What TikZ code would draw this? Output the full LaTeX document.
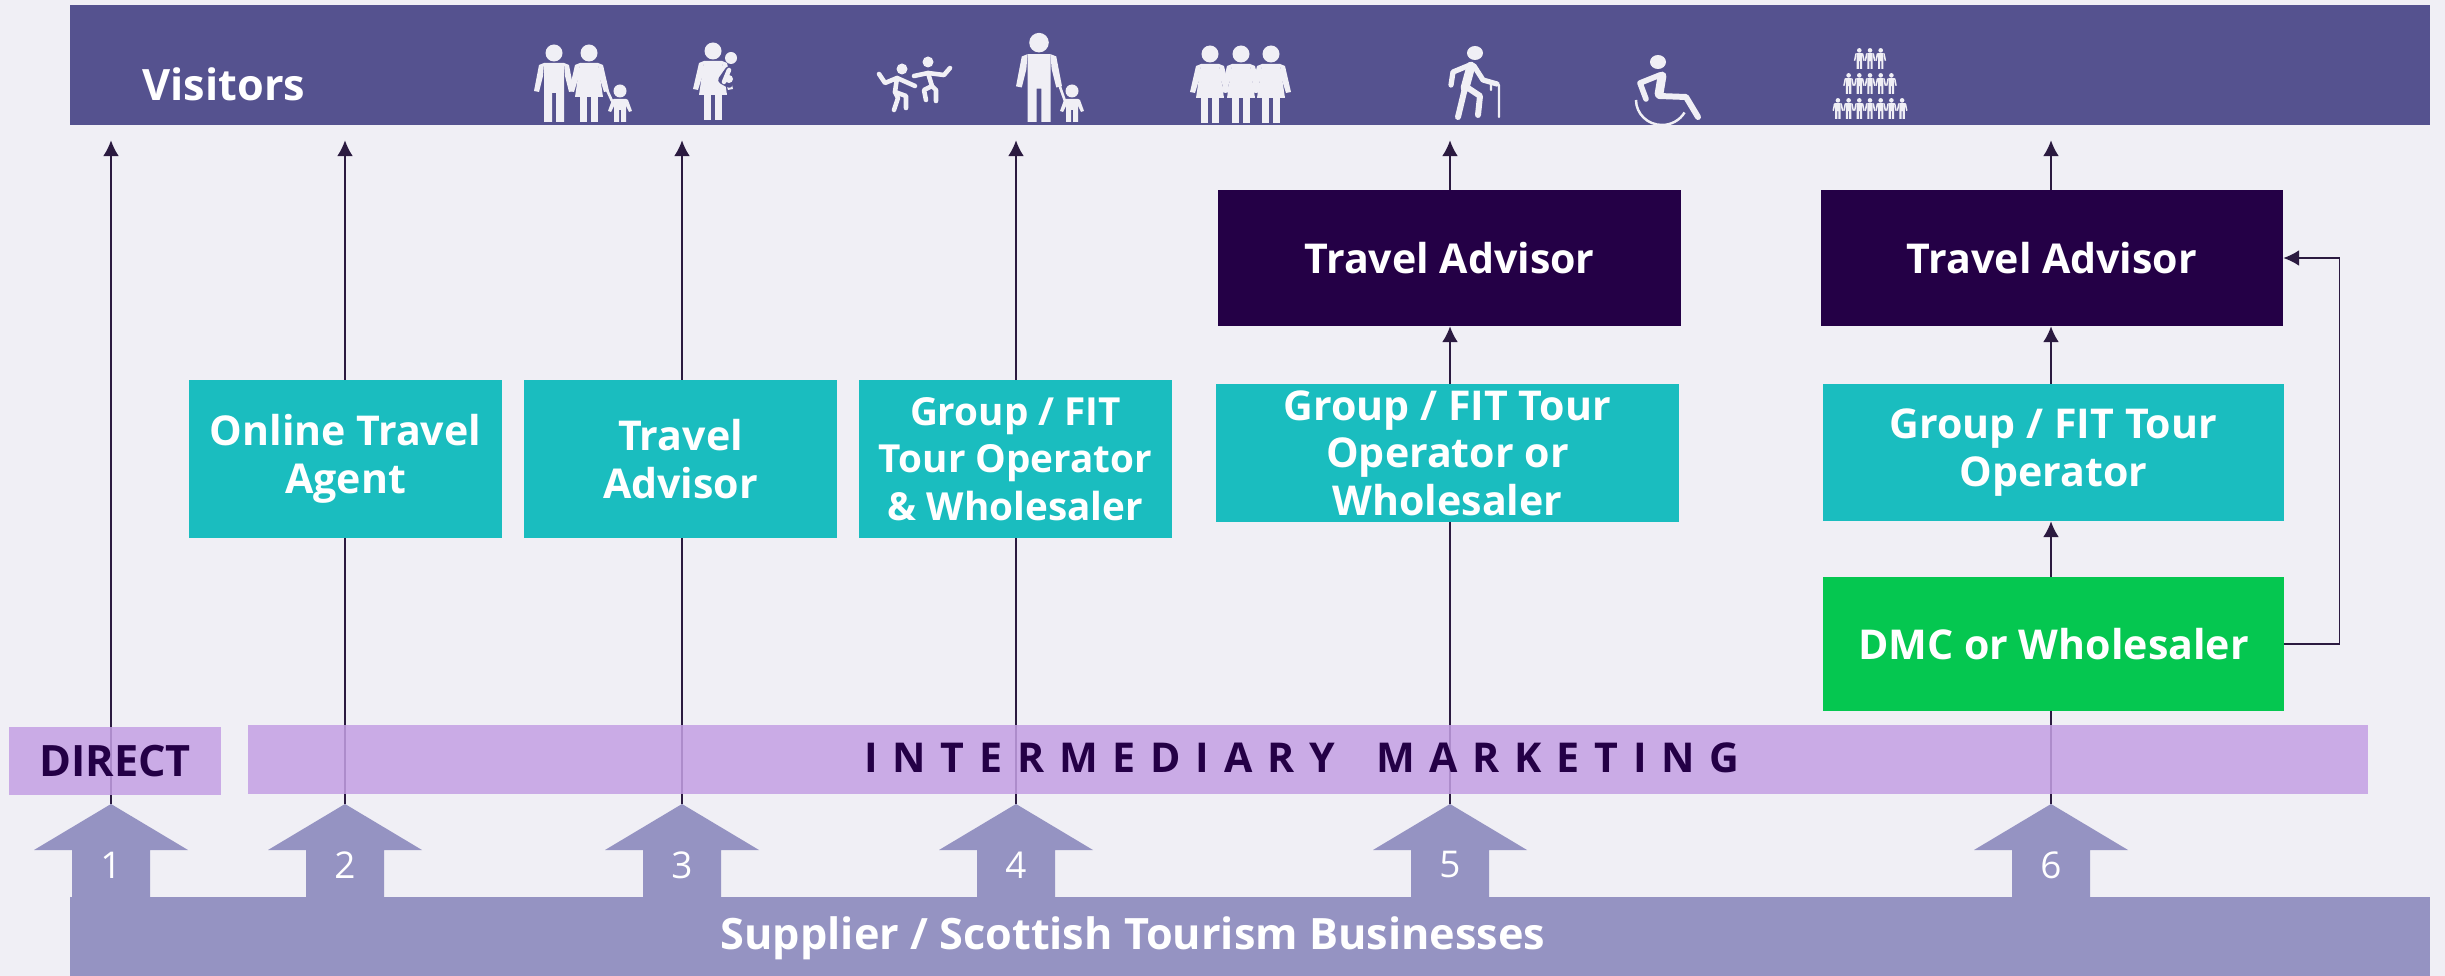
\documentclass[tikz,border=0pt]{standalone}
\usepackage{fontspec}
\setmainfont{Open Sans}
\newfontfamily\spaced[LetterSpace=36]{Open Sans}
\usepackage{tikz}
\usetikzlibrary{arrows.meta, backgrounds}

\definecolor{pagebg}{HTML}{F0EFF5}
\definecolor{visitorblue}{HTML}{55528F}
\definecolor{advisordark}{HTML}{240046}
\definecolor{operatorteal}{HTML}{1ABDBF}
\definecolor{dmcgreen}{HTML}{05C750}
\definecolor{marketlilac}{HTML}{C4A0E4}
\definecolor{supplierblue}{HTML}{9593C2}
\definecolor{linkdark}{HTML}{2B1A40}
\definecolor{iconwhite}{HTML}{F0EFF5}

\tikzset{
    pxbox/.style 2 args={rectangle, inner sep=0pt, align=center, text=white,
        minimum width=#1*0.02cm, minimum height=#2*0.02cm,
        font=\bfseries\fontsize{23.4}{27}\selectfont},
    bartext/.style={font=\bfseries\fontsize{24.6}{27}\selectfont},
    link/.style={draw=linkdark, line width=0.85pt, -{Latex[length=9pt,width=9pt]}},
    plainlink/.style={draw=linkdark, line width=0.85pt},
    pics/adult/.style={code={
        \fill[iconwhite] (0,-69) circle [radius=8.5];
        \fill[iconwhite] (-10,-59) -- (10,-59) -- (10,0) -- (2,0) -- (2,-29) -- (-2,-29) -- (-2,0) -- (-10,0) -- cycle;
        \fill[iconwhite] (-10,-59) -- (-15,-57) -- (-20,-31) -- (-15,-30) -- (-11,-46) -- cycle;
        \fill[iconwhite] (10,-59) -- (15,-57) -- (20,-31) -- (15,-30) -- (11,-46) -- cycle;
    }},
    pics/lady/.style={code={
        \fill[iconwhite] (0,-69) circle [radius=8.5];
        \fill[iconwhite] (-9,-59) -- (9,-59) -- (14,-25) -- (-14,-25) -- cycle;
        \fill[iconwhite] (-9,-26) rectangle (-2,0);
        \fill[iconwhite] (2,-26) rectangle (9,0);
        \fill[iconwhite] (-9,-59) -- (-14,-57) -- (-20,-31) -- (-15,-30) -- (-10,-46) -- cycle;
        \fill[iconwhite] (9,-59) -- (14,-57) -- (20,-31) -- (15,-30) -- (10,-46) -- cycle;
    }},
    pics/kid/.style={code={
        \fill[iconwhite] (0,-31) circle [radius=6.5];
        \fill[iconwhite] (-6,-23) -- (6,-23) -- (6,0) -- (1,0) -- (1,-12) -- (-1,-12) -- (-1,0) -- (-6,0) -- cycle;
        \fill[iconwhite] (-6,-23) -- (-8,-22) -- (-12,-11) -- (-9,-10) -- (-6,-16) -- cycle;
        \fill[iconwhite] (6,-23) -- (8,-22) -- (12,-11) -- (9,-10) -- (6,-16) -- cycle;
    }},
    stick/.style={draw=iconwhite, line cap=round, line join=round, line width=2.6pt},
}

\begin{document}
\begin{tikzpicture}[x=0.02cm, y=-0.02cm]
    \useasboundingbox (0,0) rectangle (2445,976);

    % Bars across the picture
    \node[pxbox={2360}{120}, fill=visitorblue] (visitors) at (1250,65) {};
    \node[text=white, bartext] (visitorstext) at (224,84) {Visitors};
    \node[pxbox={212}{68}, fill=marketlilac, fill opacity=.85, text opacity=1, text=advisordark, bartext] (direct) at (115,761) {DIRECT};
    \node[pxbox={2120}{69}, fill=marketlilac, fill opacity=.85] (intermediary) at (1308,759.5) {};
    \node[text=advisordark, font=\spaced\bfseries\fontsize{23.4}{27}\selectfont] (intermediarytext) at (1302,758)
        {INTERMEDIARY\quad MARKETING};
    \node[pxbox={2360}{79}, fill=supplierblue] (supplier) at (1250,936.5) {};
    \node[text=white, bartext] (suppliertext) at (1133,938) {Supplier / Scottish Tourism Businesses};

    % Boxes of each route
    \node[pxbox={463}{136}, fill=advisordark] (advisorA) at (1449.5,258) {Travel Advisor};
    \node[pxbox={462}{136}, fill=advisordark] (advisorB) at (2052,258) {Travel Advisor};
    \node[pxbox={313}{158}, fill=operatorteal] (online) at (345.5,459) {Online Travel\\Agent};
    \node[pxbox={313}{158}, fill=operatorteal] (advisor) at (680.5,459) {Travel\\Advisor};
    \node[pxbox={313}{158}, fill=operatorteal, font=\bfseries\fontsize{22}{27}\selectfont] (groupA) at (1015.5,459) {Group / FIT\\Tour Operator\\\& Wholesaler};
    \node[pxbox={463}{138}, fill=operatorteal] (groupB) at (1447.5,453) {Group / FIT Tour\\Operator or\\Wholesaler};
    \node[pxbox={461}{137}, fill=operatorteal] (groupC) at (2053.5,452.5) {Group / FIT Tour\\Operator};
    \node[pxbox={461}{134}, fill=dmcgreen] (dmc) at (2053.5,644) {DMC or Wholesaler};

    % Numbered block arrows
    \foreach \x/\n in {111/1,345/2,682/3,1016/4,1450/5,2051/6} {
        \fill[supplierblue] (\x,804) -- ++(77,46) -- ++(-38,0) -- (\x+39,898) -- (\x-39,898) -- (\x-39,850) -- ++(-38,0) -- cycle;
        \coordinate (tip\n) at (\x,804);
        \node[text=white, font=\fontsize{21}{27}\selectfont] (num\n) at (\x,865) {\n};
    }

    % Connectors go behind the boxes
    \begin{scope}[on background layer]
        \fill[pagebg] (0,0) rectangle (2445,976);
        \draw[link, shorten >=0.3cm] (tip1) -- (tip1 |- visitors.south);
        \draw[plainlink] (tip2) -- (tip2 |- online.south);
        \draw[link, shorten >=0.3cm] (tip2 |- online.north) -- (tip2 |- visitors.south);
        \draw[plainlink] (tip3) -- (tip3 |- advisor.south);
        \draw[link, shorten >=0.3cm] (tip3 |- advisor.north) -- (tip3 |- visitors.south);
        \draw[plainlink] (tip4) -- (tip4 |- groupA.south);
        \draw[link, shorten >=0.3cm] (tip4 |- groupA.north) -- (tip4 |- visitors.south);
        \draw[plainlink] (tip5) -- (tip5 |- groupB.south);
        \draw[link] (tip5 |- groupB.north) -- (tip5 |- advisorA.south);
        \draw[link, shorten >=0.3cm] (tip5 |- advisorA.north) -- (tip5 |- visitors.south);
        \draw[plainlink] (tip6) -- (tip6 |- dmc.south);
        \draw[link] (tip6 |- dmc.north) -- (tip6 |- groupC.south);
        \draw[link] (tip6 |- groupC.north) -- (tip6 |- advisorB.south);
        \draw[link, shorten >=0.3cm] (tip6 |- advisorB.north) -- (tip6 |- visitors.south);
    \end{scope}
    \draw[link] (dmc.east) -- ++(55,0) |- (advisorB.east);

    % Family
    \pic at (554,122) {adult};
    \pic at (589,122) {lady};
    \pic at (620,122) {kid};
    \draw[stick, line width=1.5pt] (607,90) -- (612,101);

    % Parent carrying a baby
    \pic at (713,120) {lady};
    \draw[stick, draw=visitorblue, line width=4.4pt] (729,70) -- (722,80) -- (729,84);
    \fill[iconwhite] (731,58) circle [radius=6];
    \draw[stick] (729,70) -- (724,82);
    \fill[iconwhite] (729,79) circle [radius=4];

    % Dancing children
    \fill[iconwhite] (902,69) circle [radius=5.5];
    \draw[stick] (879,74) -- (885,83) -- (897,78) -- (915,86);
    \draw[stick] (897,78) -- (895,92) -- (898,98) -- (894,110);
    \draw[stick] (895,92) -- (906,96) -- (906,108);
    \fill[iconwhite] (928,62) circle [radius=5.5];
    \draw[stick] (914,76) -- (928,73) -- (944,75) -- (950,68);
    \draw[stick] (928,73) -- (932,86) -- (924,90) -- (926,100);
    \draw[stick] (932,86) -- (936,90) -- (936,101);

    % Adult with child
    \pic[scale=1.15] at (1039,122) {adult};
    \pic at (1072,122) {kid};
    \draw[stick, line width=1.5pt] (1060,87) -- (1065,101);

    % Three women
    \foreach \x in {1210,1271,1241} {
        \pic at (\x,123) {lady};
    }

    % Elderly walker with a cane
    \fill[iconwhite] (1475,53) ellipse [x radius=8, y radius=7];
    \draw[stick, line width=3pt] (1470,65) -- (1453,72) -- (1451,85);
    \draw[stick, line width=3pt] (1474,66) -- (1483,80) -- (1497,84);
    \draw[stick, line width=5pt] (1471,66) -- (1465,88);
    \draw[stick, line width=3.4pt] (1465,88) -- (1458,117);
    \draw[stick, line width=3.4pt] (1468,88) -- (1480,96) -- (1478,115);
    \draw[stick, line width=1.2pt] (1491,90) -- (1491,83) -- (1499,85) -- (1499,117);

    % Wheelchair user
    \fill[iconwhite] (1658,62) ellipse [x radius=8, y radius=7];
    \draw[stick, line width=3.2pt] (1660,75) -- (1640,83) -- (1646,99);
    \draw[stick, line width=5pt] (1662,76) -- (1659,94);
    \draw[stick, line width=3.4pt] (1659,96) -- (1686,97) -- (1698,117);
    \draw[draw=iconwhite, line width=1.4pt] (1636,100) arc [start angle=180, end angle=30, x radius=26, y radius=25];

    % Crowd of people
    \foreach \n/\y in {3/69,5/94,7/119} {
        \foreach \k in {1,...,\n} {
            \pic[scale=.27] at ({1870+10.7*(\k-(\n+1)/2)},\y) {adult};
        }
    }
\end{tikzpicture}
\end{document}
